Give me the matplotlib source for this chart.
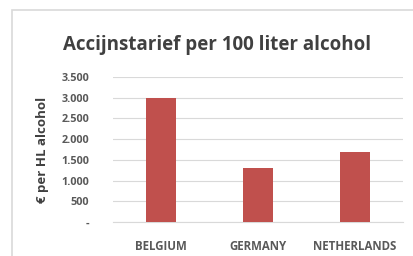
import matplotlib.pyplot as plt
from matplotlib.patches import Rectangle
from matplotlib.ticker import FuncFormatter

# Data
countries = ['BELGIUM', 'GERMANY', 'NETHERLANDS']
excise = [3000, 1300, 1700]
y_ticks = [0, 500, 1000, 1500, 2000, 2500, 3000, 3500]

plt.rcParams['font.family'] = ['Open Sans', 'DejaVu Sans']

fig = plt.figure(figsize=(4.13, 2.56), dpi=100)
ax = fig.add_axes([113 / 413, 1 - 222 / 256, 290 / 413, (222 - 77) / 256])

ax.bar(range(len(countries)), excise, width=0.31, color='#C0504D', zorder=3)

ax.set_xlim(-0.5, len(countries) - 0.5)
ax.set_ylim(0, 3500)
ax.set_yticks(y_ticks)


def fmt(v, pos):
    if v == 0:
        return '-'
    return '{:,.0f}'.format(v).replace(',', '.')


ax.yaxis.set_major_formatter(FuncFormatter(fmt))
ax.set_xticks(range(len(countries)))
ax.set_xticklabels(countries)
ax.grid(axis='y', color='#D9D9D9', linewidth=0.8, zorder=0)
for s in ['top', 'right', 'left']:
    ax.spines[s].set_visible(False)
ax.spines['bottom'].set_color('#D9D9D9')
ax.tick_params(length=0, labelcolor='#595959')
ax.tick_params(axis='x', pad=13, labelsize=8.3)
ax.tick_params(axis='y', pad=17, labelsize=7.8)
for lbl in ax.get_xticklabels() + ax.get_yticklabels():
    lbl.set_fontweight('bold')

ax.set_ylabel('€ per HL alcohol', fontsize=9.5, fontweight='bold', color='#404040')
ax.yaxis.set_label_coords(-0.22, 0.5)

fig.text(217 / 413, 1 - 45 / 256, 'Accijnstarief per 100 liter alcohol',
         ha='center', va='center', fontsize=13.5, fontweight='bold', color='#404040')

# chart border
fig.patches.append(Rectangle((12 / 413, -0.1), 1.2, 1 - 10 / 256 + 0.1,
                             transform=fig.transFigure, fill=False,
                             edgecolor='#D9D9D9', linewidth=1.2))

fig.savefig('out.png', dpi=100)
